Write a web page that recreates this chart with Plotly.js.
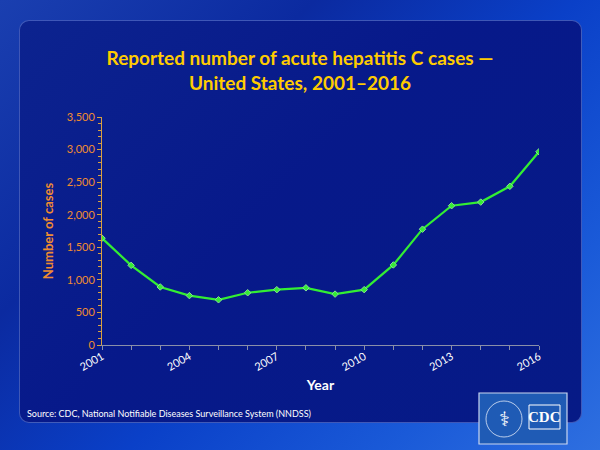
<!DOCTYPE html>
<html><head><meta charset="utf-8">
<script src="https://cdn.plot.ly/plotly-3.0.1.min.js"></script>
<style>
html,body{margin:0;padding:0;width:600px;height:450px;overflow:hidden;}
body{background:linear-gradient(135deg,#1a3fb0 0%,#0b2aa0 30%,#0a40c8 55%,#1a5ad8 80%,#2e6fe0 100%);position:relative;}
#panel{position:absolute;left:19px;top:20px;width:563px;height:403px;border-radius:10px;background:linear-gradient(135deg,#0c238f 0%,#07198a 45%,#061a86 100%);border:1px solid rgba(120,150,230,0.5);box-sizing:border-box;}
#chart{position:absolute;left:0;top:0;width:600px;height:450px;}
</style></head>
<body>
<div id="panel"></div>
<div id="chart"></div>
<script>
const years = [2001,2002,2003,2004,2005,2006,2007,2008,2009,2010,2011,2012,2013,2014,2015,2016];
const cases = [1640,1223,891,758,694,802,849,878,781,850,1229,1778,2138,2194,2436,2967];
const xTickVals = [2001,2004,2007,2010,2013,2016];
const xTickText = ['2001','2004','2007','2010','2013','2016'];
const yTickVals = [0,500,1000,1500,2000,2500,3000,3500];
const yTickText = ['0','500','1,000','1,500','2,000','2,500','3,000','3,500'];
const titleText = 'Reported number of acute hepatitis C cases —<br>United States, 2001–2016';
const sourceText = 'Source: CDC, National Notifiable Diseases Surveillance System (NNDSS)';

const font = 'Lato, "Open Sans", sans-serif';
const trace = {
  x: years, y: cases, type: 'scatter', mode: 'lines+markers',
  line: {color: '#33ee33', width: 2.2},
  marker: {symbol: 'diamond', size: 5, color: '#33ee33', line: {color: '#88dd99', width: 1}},
  hoverinfo: 'skip'
};
const layout = {
  width: 600, height: 450,
  paper_bgcolor: 'rgba(0,0,0,0)', plot_bgcolor: 'rgba(0,0,0,0)',
  margin: {l: 102, r: 61, t: 117, b: 105},
  showlegend: false,
  title: {text: titleText, font: {family: font, size: 19, color: '#ffcc00', weight: 'bold'}, x: 0.5, xanchor: 'center', y: 0.856, yanchor: 'top'},
  xaxis: {
    range: [2001, 2016], tickvals: xTickVals, ticktext: xTickText, tickangle: -30,
    tickfont: {family: font, size: 11, color: '#ffffff'},
    showgrid: false, zeroline: false, showline: true, linecolor: '#8a8fa8', linewidth: 1,
    ticks: '',
    minor: {tickvals: years, ticks: 'outside', ticklen: 4, tickcolor: '#8a8fa8', showgrid: false},
    title: {text: 'Year', font: {family: font, size: 14, color: '#ffffff', weight: 'bold'}, standoff: 8}
  },
  yaxis: {
    range: [0, 3500], tickvals: yTickVals, ticktext: yTickText,
    tickfont: {family: font, size: 11, color: '#f08c30'},
    showgrid: false, zeroline: false, showline: true, linecolor: '#d8a040', linewidth: 1,
    ticks: 'outside', ticklen: 4, tickcolor: '#d8a040',
    minor: {dtick: 100, ticks: 'outside', ticklen: 3, tickcolor: '#d8a040', showgrid: false},
    title: {text: 'Number of cases', font: {family: font, size: 13, color: '#f08c30', weight: 'bold'}, standoff: 10}
  },
  shapes: [
    {type: 'rect', xref: 'paper', yref: 'paper', xsizemode: 'pixel', ysizemode: 'pixel', xanchor: 0, yanchor: 0,
     x0: 377, x1: 465, y0: -48, y1: -99, fillcolor: '#1f5bb5', line: {color: '#c9d6f0', width: 1.2}, layer: 'above'},
    {type: 'rect', xref: 'paper', yref: 'paper', xsizemode: 'pixel', ysizemode: 'pixel', xanchor: 0, yanchor: 0,
     x0: 427, x1: 458, y0: -60, y1: -84, fillcolor: 'rgba(0,0,0,0)', line: {color: '#ffffff', width: 1}, layer: 'above'},
    {type: 'circle', xref: 'paper', yref: 'paper', xsizemode: 'pixel', ysizemode: 'pixel', xanchor: 0, yanchor: 0,
     x0: 384, x1: 420, y0: -56, y1: -92, fillcolor: 'rgba(0,0,0,0)', line: {color: '#dfe8f8', width: 0.8}, layer: 'above'}
  ],
  annotations: [
    {text: sourceText, xref: 'paper', yref: 'paper', x: -77/437, y: -68/228, xanchor: 'left', yanchor: 'middle',
     showarrow: false, font: {family: font, size: 9, color: '#ffffff'}},
    {text: 'CDC', xref: 'paper', yref: 'paper', x: 442.5/437, y: -72/228, xanchor: 'center', yanchor: 'middle',
     showarrow: false, font: {family: '"Liberation Serif", serif', size: 15, color: '#ffffff', weight: 'bold'}},
    {text: '⚕', xref: 'paper', yref: 'paper', x: 402/437, y: -74/228, xanchor: 'center', yanchor: 'middle',
     showarrow: false, font: {family: 'DejaVu Sans', size: 20, color: '#ffffff'}}
  ]
};
Plotly.newPlot('chart', [trace], layout, {staticPlot: true, displayModeBar: false});
</script>
</body></html>
